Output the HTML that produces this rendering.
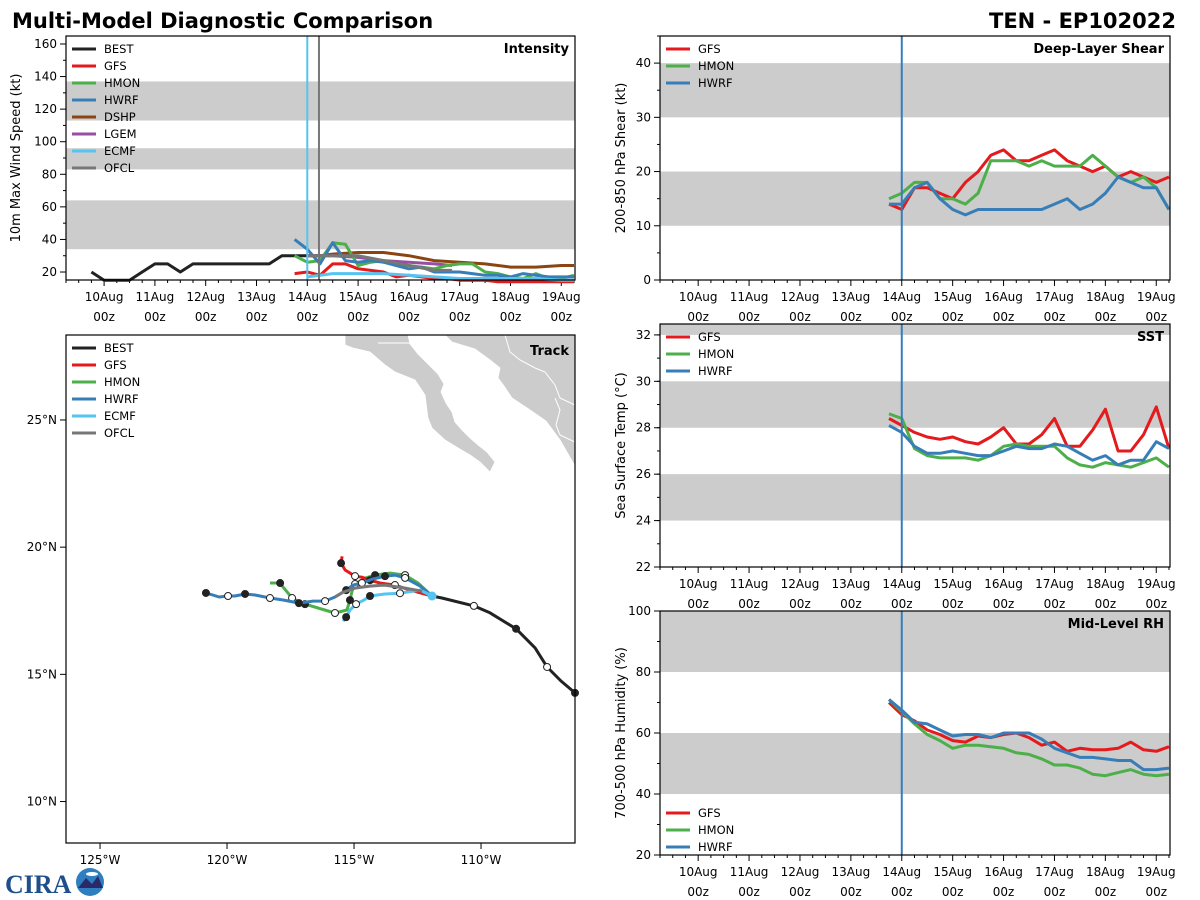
<!DOCTYPE html>
<html><head><meta charset="utf-8">
<style>
body{margin:0;background:#fff;}
svg{display:block;font-family:"DejaVu Sans","Liberation Sans",sans-serif;}
</style></head>
<body>
<svg id="root" width="1200" height="900" viewBox="0 0 1200 900" xmlns="http://www.w3.org/2000/svg">
<rect width="1200" height="900" fill="#fff"/>
<text x="12" y="28" font-size="21" font-weight="bold">Multi-Model Diagnostic Comparison</text>
<text x="1176" y="28" font-size="21" font-weight="bold" text-anchor="end">TEN - EP102022</text>
<g>
<text x="5" y="893" font-size="26" font-weight="bold" fill="#1f4e8c" font-family="Liberation Serif,serif">CIRA</text>
<circle cx="90" cy="882" r="14" fill="#2f7fc0"/>
<path d="M78 888 L86 878 L92 884 L98 876 L103 888 Z" fill="#2a2a6a"/>
<ellipse cx="92" cy="874" rx="6" ry="2" fill="#fff"/>
</g>
<g id="plots"></g>
</svg>
<script>
// ---------- DATA ----------
const dayLabels=["10Aug","11Aug","12Aug","13Aug","14Aug","15Aug","16Aug","17Aug","18Aug","19Aug"];
// time in days from 10Aug 00z
const intTimes=[-0.25,0,0.25,0.5,0.75,1,1.25,1.5,1.75,2,2.25,2.5,2.75,3,3.25,3.5,3.75,4,4.25];
const bestInt=[20,15,15,15,20,25,25,20,25,25,25,25,25,25,25,30,30,30,30];
const fcTimes=[3.75,4,4.25,4.5,4.75,5,5.25,5.5,5.75,6,6.25,6.5,6.75,7,7.25,7.5,7.75,8,8.25,8.5,8.75,9,9.25];
const gfsInt=[19,20,18,25,25,22,21,20,17,18,17,16,16,15,15,15,14,14,14,14,14,14,14];
const hmonInt=[30,26,27,38,37,24,26,27,25,24,23,22,24,25,25,20,19,17,16,19,16,16,18];
const hwrfInt=[40,34,25,38,27,26,27,26,24,22,23,20,20,20,19,18,18,17,19,18,17,17,17];
const dshpTimes=[4,4.25,4.5,5,5.5,6,6.5,7,7.5,8,8.5,9,9.25];
const dshpInt=[30,30,31,32,32,30,27,26,25,23,23,24,24];
const lgemTimes=[4,4.5,5,5.5,6,6.5,6.85];
const lgemInt=[30,30,29,27,26,25,24];
const ecmfTimes=[4,4.25,4.5,5,5.5,6,6.5,7,7.5,8,8.5,9,9.25];
const ecmfInt=[17,18,19,19,19,18,17,16,16,16,16,15,15];
const ofclTimes=[4,4.25,5,5.5,6,6.5,6.85];
const ofclInt=[30,30,30,27,24,21,21];

const gfsShear=[14,13,17,17,16,15,18,20,23,24,22,22,23,24,22,21,20,21,19,20,19,18,19];
const hmonShear=[15,16,18,18,15,15,14,16,22,22,22,21,22,21,21,21,23,21,19,18,19,17,13];
const hwrfShear=[14,14,17,18,15,13,12,13,13,13,13,13,13,14,15,13,14,16,19,18,17,17,13];

const gfsSST=[28.4,28.1,27.8,27.6,27.5,27.6,27.4,27.3,27.6,28.0,27.3,27.3,27.7,28.4,27.2,27.2,27.9,28.8,27.0,27.0,27.7,28.9,27.1];
const hmonSST=[28.6,28.4,27.1,26.8,26.7,26.7,26.7,26.6,26.8,27.2,27.3,27.2,27.2,27.2,26.7,26.4,26.3,26.5,26.4,26.3,26.5,26.7,26.3];
const hwrfSST=[28.1,27.8,27.2,26.9,26.9,27.0,26.9,26.8,26.8,27.0,27.2,27.1,27.1,27.3,27.2,26.9,26.6,26.8,26.4,26.6,26.6,27.4,27.1];

const gfsRH=[70,66,64,61,59.5,57.5,57,59,58.5,59.5,60,58.5,56,57,54,55,54.5,54.5,55,57,54.5,54,55.5];
const hmonRH=[71,67,63,59.5,57.5,55,56,56,55.5,55,53.5,53,51.5,49.5,49.5,48.5,46.5,46,47,48,46.5,46,46.5];
const hwrfRH=[71,67.5,63.5,63,61,59,59.5,59.5,58.5,60,60,60,58,55,53.5,52,52,51.5,51,51,48,48,48.5];

// track [lon,lat]
const bestTrack=[[-106.30,14.27],[-106.85,14.74],[-107.40,15.29],[-107.87,16.04],[-108.62,16.79],[-109.65,17.42],[-110.28,17.69],[-111.54,18.0],[-111.93,18.08]];
const hwrfTrack=[[-111.93,18.08],[-112.40,18.47],[-112.99,18.79],[-113.39,18.90],[-113.78,18.86],[-114.29,18.74],[-114.69,18.59],[-115.04,18.51],[-115.31,18.31],[-115.75,18.04],[-116.14,17.88],[-116.61,17.88],[-117.17,17.80],[-117.76,17.92],[-118.31,18.0],[-118.90,18.12],[-119.29,18.16],[-119.69,18.08],[-119.96,18.08],[-120.31,18.04],[-120.83,18.20]];
const hmonTrack=[[-111.93,18.08],[-112.48,18.59],[-112.99,18.90],[-113.58,18.98],[-114.17,18.90],[-114.57,18.78],[-114.96,18.55],[-115.08,18.27],[-115.16,17.92],[-115.28,17.53],[-115.75,17.41],[-116.42,17.61],[-116.93,17.76],[-117.20,17.88],[-117.44,18.0],[-117.76,18.39],[-117.91,18.59],[-118.31,18.59]];
const gfsTrack=[[-111.93,18.08],[-112.80,18.31],[-113.39,18.51],[-113.98,18.59],[-114.37,18.70],[-114.69,18.82],[-114.96,18.86],[-115.35,19.10],[-115.51,19.37],[-115.47,19.64]];
const ecmfTrack=[[-111.93,18.08],[-112.40,18.31],[-113.19,18.19],[-113.78,18.16],[-114.37,18.08],[-114.61,17.92],[-114.92,17.76],[-115.16,17.53],[-115.31,17.25],[-115.43,17.09]];
const ofclTrack=[[-112.32,18.27],[-112.99,18.39],[-113.78,18.51],[-114.37,18.47],[-114.96,18.39],[-115.43,18.23],[-115.75,18.04]];

// ---------- DRAW ----------
const NS="http://www.w3.org/2000/svg";
const root=document.getElementById('plots');
function el(tag,attrs,parent){const e=document.createElementNS(NS,tag);for(const k in attrs)e.setAttribute(k,attrs[k]);(parent||root).appendChild(e);return e;}
function txt(s,attrs,parent){const e=el('text',attrs,parent);e.textContent=s;return e;}

function makePanel(p){
  const g=el('g',{});
  
  
  const sx=t=>p.x0+(t-p.tmin)/(p.tmax-p.tmin)*(p.x1-p.x0);
  const sy=v=>p.y1-(v-p.vmin)/(p.vmax-p.vmin)*(p.y1-p.y0);
  el('rect',{x:p.x0,y:p.y0,width:p.x1-p.x0,height:p.y1-p.y0,fill:'#fff'},g);
  p.bands.forEach(b=>{
    const r=el('rect',{x:p.x0,y:sy(Math.min(b[1],p.vmax)),width:p.x1-p.x0,height:sy(b[0])-sy(Math.min(b[1],p.vmax)),fill:'#cccccc'},g);
    
    
  });
  for(let h=Math.ceil(p.tmin*4);h<=p.tmax*4;h++){
    const t=h/4,x=sx(t),major=(h%4===0);
    el('line',{x1:x,x2:x,y1:p.y1,y2:p.y1+(major?6:3),stroke:'#000','stroke-width':1},g);
  }
  dayLabels.forEach((d,i)=>{
    const x=sx(i);
    const a=txt(d,{x:x,y:p.y1+21,'font-size':12,'text-anchor':'middle'},g);
    
    
    txt('00z',{x:x,y:p.y1+41,'font-size':12,'text-anchor':'middle'},g);
  });
  p.yticks.forEach(v=>{
    const y=sy(v);
    el('line',{x1:p.x0-6,x2:p.x0,y1:y,y2:y,stroke:'#000'},g);
    const a=txt(String(v),{x:p.x0-9,y:y+4,'font-size':12,'text-anchor':'end'},g);
    
    
  });
  if(p.minor){for(let v=p.minor[0];v<=p.vmax;v+=p.minor[1]){const y=sy(v);if(y>=p.y0&&y<=p.y1)el('line',{x1:p.x0-3,x2:p.x0,y1:y,y2:y,stroke:'#000'},g);}}
  const yt=txt(p.ylabel,{x:0,y:0,'font-size':13,'text-anchor':'middle',transform:`translate(${p.x0-p.ylOff},${(p.y0+p.y1)/2}) rotate(-90)`},g);
  
  
  p.series.forEach(s=>{
    const pts=s.t.map((t,i)=>sx(t).toFixed(1)+','+sy(s.v[i]).toFixed(1)).join(' ');
    const l=el('polyline',{points:pts,fill:'none',stroke:s.c,'stroke-width':3,'stroke-linejoin':'round'},g);
    
    
  });
  (p.vlines||[]).forEach(v=>{
    const l=el('line',{x1:sx(v.t),x2:sx(v.t),y1:p.y0,y2:p.y1,stroke:v.c,'stroke-width':2},g);
    
    
  });
  el('rect',{x:p.x0,y:p.y0,width:p.x1-p.x0,height:p.y1-p.y0,fill:'none',stroke:'#000','stroke-width':1.2},g);
  const tt=txt(p.title,{x:p.x1-6,y:p.y0+17,'font-size':13,'font-weight':'bold','text-anchor':'end'},g);
  
  
  drawLegend(g,p.legend,p.x0+6,p.ly||p.y0+13);
  return {sx,sy,g};
}
function drawLegend(g,items,x,y){
  const lg=el('g',{},g);
  
  
  items.forEach((it,i)=>{
    const yy=y+i*17;
    el('line',{x1:x,x2:x+24,y1:yy,y2:yy,stroke:it[1],'stroke-width':3},lg);
    const t=txt(it[0],{x:x+32,y:yy+4,'font-size':11.5},lg);
    
    
  });
}
const C={BEST:'#222222',GFS:'#e41a1c',HMON:'#4daf4a',HWRF:'#377eb8',DSHP:'#8b4513',LGEM:'#984ea3',ECMF:'#56c4f0',OFCL:'#777777'};
const TMIN=-0.75,TMAX=9.27;

makePanel({name:'intensity-panel',x0:66,x1:575,y0:36,y1:280,tmin:TMIN,tmax:TMAX,vmin:15.1,vmax:164.9,
  bands:[[34,64],[83,96],[113,137]],yticks:[20,40,60,80,100,120,140,160],minor:[30,20],ylabel:'10m Max Wind Speed (kt)',ylOff:46,title:'Intensity',
  series:[{n:'BEST',c:C.BEST,t:intTimes,v:bestInt},{n:'DSHP',c:C.DSHP,t:dshpTimes,v:dshpInt},{n:'LGEM',c:C.LGEM,t:lgemTimes,v:lgemInt},
  {n:'GFS',c:C.GFS,t:fcTimes,v:gfsInt},{n:'HMON',c:C.HMON,t:fcTimes,v:hmonInt},{n:'HWRF',c:C.HWRF,t:fcTimes,v:hwrfInt},
  {n:'ECMF',c:C.ECMF,t:ecmfTimes,v:ecmfInt},{n:'OFCL',c:C.OFCL,t:ofclTimes,v:ofclInt}],
  vlines:[{t:4,c:C.ECMF},{t:4.23,c:C.OFCL}],
  legend:[['BEST',C.BEST],['GFS',C.GFS],['HMON',C.HMON],['HWRF',C.HWRF],['DSHP',C.DSHP],['LGEM',C.LGEM],['ECMF',C.ECMF],['OFCL',C.OFCL]]});

const m3=[['GFS',C.GFS],['HMON',C.HMON],['HWRF',C.HWRF]];
makePanel({name:'shear-panel',x0:660,x1:1170,y0:36,y1:280,tmin:TMIN,tmax:TMAX,vmin:0,vmax:45,bands:[[10,20],[30,40]],
  yticks:[0,10,20,30,40],minor:[5,10],ylabel:'200-850 hPa Shear (kt)',ylOff:35,title:'Deep-Layer Shear',
  series:[{n:'GFS',c:C.GFS,t:fcTimes,v:gfsShear},{n:'HMON',c:C.HMON,t:fcTimes,v:hmonShear},{n:'HWRF',c:C.HWRF,t:fcTimes,v:hwrfShear}],
  vlines:[{t:4,c:C.HWRF}],legend:m3});
makePanel({name:'sst-panel',x0:660,x1:1170,y0:324,y1:567,tmin:TMIN,tmax:TMAX,vmin:22,vmax:32.47,bands:[[24,26],[28,30],[32,33]],
  yticks:[22,24,26,28,30,32],minor:[23,1],ylabel:'Sea Surface Temp (°C)',ylOff:35,title:'SST',
  series:[{n:'GFS',c:C.GFS,t:fcTimes,v:gfsSST},{n:'HMON',c:C.HMON,t:fcTimes,v:hmonSST},{n:'HWRF',c:C.HWRF,t:fcTimes,v:hwrfSST}],
  vlines:[{t:4,c:C.HWRF}],legend:m3});
makePanel({name:'rh-panel',x0:660,x1:1170,y0:611,y1:855,tmin:TMIN,tmax:TMAX,vmin:20,vmax:100,bands:[[40,60],[80,100]],
  yticks:[20,40,60,80,100],minor:[30,10],ylabel:'700-500 hPa Humidity (%)',ylOff:35,title:'Mid-Level RH',
  series:[{n:'GFS',c:C.GFS,t:fcTimes,v:gfsRH},{n:'HMON',c:C.HMON,t:fcTimes,v:hmonRH},{n:'HWRF',c:C.HWRF,t:fcTimes,v:hwrfRH}],
  vlines:[{t:4,c:C.HWRF}],legend:m3,ly:813});

// ---------- TRACK ----------
(function(){
  const x0=66,x1=575,y0=335,y1=843,lonMin=-126.34,lonMax=-106.3,latMin=8.37,latMax=28.34;
  const px=lo=>x0+(lo-lonMin)/(lonMax-lonMin)*(x1-x0);
  const py=la=>y1-(la-latMin)/(latMax-latMin)*(y1-y0);
  const g=el('g',{});
  
  
  el('rect',{x:x0,y:y0,width:x1-x0,height:y1-y0,fill:'#fff'},g);
  const cl=el('clipPath',{id:'tc'},g);el('rect',{x:x0,y:y0,width:x1-x0,height:y1-y0},cl);
  const land=el('g',{'clip-path':'url(#tc)'},g);
  
  
  el('polygon',{points:'345,335 345,345 353,348 370,352 385,365 395,372 415,380 425,395 428,418 432,428 445,440 458,448 470,455 480,462 490,472 495,462 487,452 478,445 470,438 462,430 455,422 452,412 446,403 441,392 444,384 438,374 428,364 418,354 410,344 408,335',fill:'#cccccc',stroke:'#fff','stroke-width':0.8},land);
  el('polygon',{points:'445,335 452,342 475,349 490,360 500,368 498,378 504,386 512,398 530,410 546,421 560,440 575,466 575,335',fill:'#cccccc',stroke:'#fff','stroke-width':0.8},land);
  el('polyline',{points:'505,335 510,352 520,360 535,368 545,372 555,385 560,398 575,405',fill:'none',stroke:'#fff','stroke-width':1},land);
  el('polyline',{points:'555,398 560,410 556,425 560,435 575,442',fill:'none',stroke:'#fff','stroke-width':1},land);
  el('polyline',{points:'378,343 410,343',fill:'none',stroke:'#fff','stroke-width':1},land);
  const tracks=[['HMON',hmonTrack],['GFS',gfsTrack],['HWRF',hwrfTrack],['ECMF',ecmfTrack],['OFCL',ofclTrack],['BEST',bestTrack]];
  tracks.forEach(([n,tr])=>{
    const l=el('polyline',{points:tr.map(p=>px(p[0]).toFixed(1)+','+py(p[1]).toFixed(1)).join(' '),fill:'none',stroke:C[n],'stroke-width':3,'stroke-linejoin':'round'},g);
    
    
    if(n!=='OFCL'){
      tr.forEach((p,i)=>{
        if(i===0&&n!=='BEST')return;
        if(i%2===0){
          const c=el('circle',{cx:px(p[0]),cy:py(p[1]),r:3.5,fill:(i%4===0)?'#222':'#fff',stroke:'#222','stroke-width':1},g);
          
          
        }
      });
    }
  });
  el('circle',{cx:px(-111.93),cy:py(18.08),r:4.5,fill:C.ECMF},g);
  el('rect',{x:x0,y:y0,width:x1-x0,height:y1-y0,fill:'none',stroke:'#000','stroke-width':1.2},g);
  [25,20,15,10].forEach(la=>{const y=py(la);el('line',{x1:x0-6,x2:x0,y1:y,y2:y,stroke:'#000'},g);
    const t=txt(la+'°N',{x:x0-9,y:y+4,'font-size':12,'text-anchor':'end'},g);
    
    });
  [125,120,115,110].forEach(lo=>{const x=px(-lo);el('line',{x1:x,x2:x,y1:y1,y2:y1+6,stroke:'#000'},g);
    const t=txt(lo+'°W',{x:x,y:y1+21,'font-size':12,'text-anchor':'middle'},g);
    
    });
  const tt=txt('Track',{x:x1-6,y:y0+20,'font-size':13,'font-weight':'bold','text-anchor':'end'},g);
  
  
  drawLegend(g,[['BEST',C.BEST],['GFS',C.GFS],['HMON',C.HMON],['HWRF',C.HWRF],['ECMF',C.ECMF],['OFCL',C.OFCL]],x0+6,y0+13);
})();
</script>
</body></html>
